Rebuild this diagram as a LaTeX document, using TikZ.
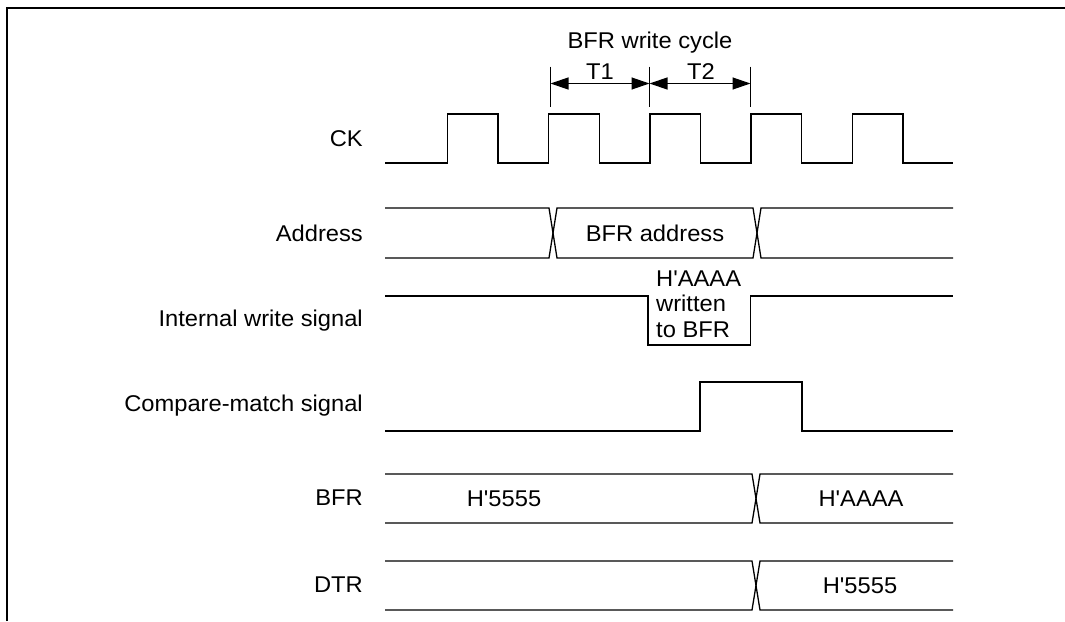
\documentclass[tikz,border=0pt]{standalone}
\usepackage{fontspec}
\setmainfont[Ligatures=TeXOff,FakeStretch=1.04]{Liberation Sans}
\usetikzlibrary{arrows.meta}
\begin{document}
\begin{tikzpicture}[x=1pt,y=-1pt,
  sig/.style={line width=1.3pt,line join=miter},
  lbl/.style={anchor=east,inner sep=0pt,font=\fontsize{22.8}{25.5}\selectfont},
  txt/.style={inner sep=0pt,font=\fontsize{22.8}{25.5}\selectfont},
  dimarrow/.style={line width=1.3pt,{Triangle[length=18pt,width=12pt]}-{Triangle[length=18pt,width=12pt]}},
  tick/.style={line width=1.1pt}]
\useasboundingbox (0,0) rectangle (1065,621);
% frame
\draw[line width=2.4pt] (7,621) -- (7,8) -- (1065,8);
% labels
\node[lbl] (lck) at (363,139) {CK};
\node[lbl] (ladr) at (363,233) {Address};
\node[lbl] (liw) at (363,321) {Internal write signal};
\node[lbl] (lcm) at (363,406) {Compare-match signal};
\node[lbl] (lbfr) at (363,498) {BFR};
\node[lbl] (ldtr) at (363,585) {DTR};
% BFR write cycle
\node[txt] (cyc) at (650,43) {BFR write cycle};
\node[txt] (t1) at (600,71.5) {T1};
\node[txt] (t2) at (701,71.5) {T2};
\coordinate (ka) at (550.5,83.5);
\coordinate (kb) at (649.5,83.5);
\coordinate (kc) at (750.5,83.5);
\draw[tick] (ka) ++(0,-17) -- ++(0,40);
\draw[tick] (kb) ++(0,-17) -- ++(0,40);
\draw[tick] (kc) ++(0,-17) -- ++(0,40);
\draw[dimarrow] (ka) -- (kb);
\draw[dimarrow] (kb) -- (kc);
% CK
\draw[sig] (385,163) -- (447.5,163) -- (447.5,114) -- (498.1,114) -- (498.1,163)
  -- (548.7,163) -- (548.7,114) -- (599.3,114) -- (599.3,163)
  -- (649.9,163) -- (649.9,114) -- (700.5,114) -- (700.5,163)
  -- (751.1,163) -- (751.1,114) -- (801.7,114) -- (801.7,163)
  -- (852.3,163) -- (852.3,114) -- (902.9,114) -- (902.9,163) -- (953,163);
% Address
\draw[sig] (385,208) -- (549,208) -- (557,258) -- (753,258) -- (761,208) -- (953,208);
\draw[sig] (385,258) -- (549,258) -- (557,208) -- (753,208) -- (761,258) -- (953,258);
\node[txt] (adr) at (655,233) {BFR address};
% Internal write
\draw[sig] (385,296) -- (648,296) -- (648,345) -- (750.5,345) -- (750.5,296) -- (953,296);
\node[txt,anchor=north west,align=left] (iw) at (656,270.5) {H'AAAA\\written\\to BFR};
% Compare match
\draw[sig] (385,431) -- (700,431) -- (700,382) -- (802,382) -- (802,431) -- (953,431);
% BFR
\draw[sig] (385,474) -- (752,474) -- (760,523) -- (953,523);
\draw[sig] (385,523) -- (752,523) -- (760,474) -- (953,474);
\node[txt] (b1) at (504,499) {H'5555};
\node[txt] (b2) at (861,499) {H'AAAA};
% DTR
\draw[sig] (385,561) -- (752,561) -- (760,610) -- (953,610);
\draw[sig] (385,610) -- (752,610) -- (760,561) -- (953,561);
\node[txt] (d1) at (860,586) {H'5555};
\end{tikzpicture}
\end{document}
